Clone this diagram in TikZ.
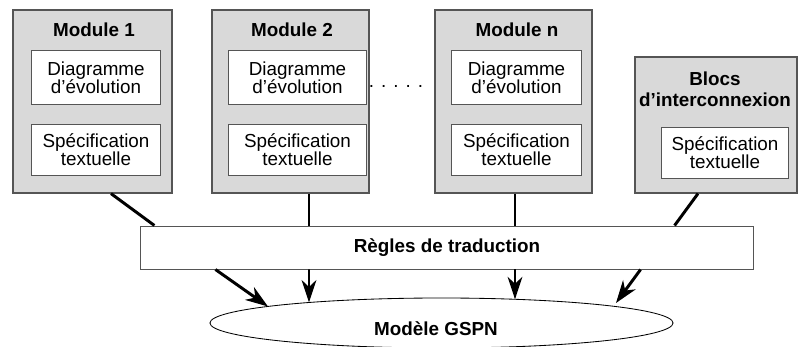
\documentclass[tikz,border=0pt]{standalone}
\usepackage{fontspec}
\setmainfont{Liberation Sans}
\usetikzlibrary{arrows.meta,calc,shapes.geometric}
\definecolor{modulegray}{RGB}{217,217,217}
\definecolor{bordergray}{RGB}{85,85,85}
\tikzset{%
  % Specifications for style of arrows:
   flow/.style={
           line width=1.4pt},
   bigflow/.style={
           line width=2.1pt},
   flowarrow/.style={
           flow,
           -{Stealth[length=16pt,width=10.5pt,inset=5pt]}},
   bigarrow/.style={
           bigflow,
           -{Stealth[length=16pt,width=11pt,inset=5pt]}},
  % Specifications for style of nodes:
   module/.style = {rectangle, draw=bordergray, fill=modulegray,
                  line width=0.8pt, inner sep=0pt},
   content/.style = {rectangle, draw=bordergray, fill=white,
                  line width=0.7pt, inner sep=0pt, align=center,
                  font=\fontsize{13.4}{12.8}\selectfont},
   title/.style = {align=center, inner sep=0pt,
                  font=\fontsize{13.4}{15}\selectfont\bfseries},
   rules/.style = {rectangle, draw=bordergray, fill=white,
                  line width=0.7pt, minimum width=15.3cm, minimum height=1.075cm,
                  font=\fontsize{13.4}{15}\selectfont\bfseries},
   model/.style = {ellipse, draw=black, line width=0.6pt, inner sep=0pt,
                  minimum width=11.575cm, minimum height=1.25cm},
}

\begin{document}
\begin{tikzpicture}[x=0.025cm, y=-0.025cm]
  \useasboundingbox (0,0) rectangle (798,347);

  % Modules
  \node (M1_block)	[module, minimum width=3.975cm, minimum height=4.575cm]	at (92.5,101.5) {};
  \node (M1_title)	[title]	at (94,30) {Module 1};
  \node (M1_diag)	[content, minimum width=3.2cm, minimum height=1.325cm]	at (96,77.5) {Diagramme\\d’évolution};
  \node (M1_spec)	[content, minimum width=3.2cm, minimum height=1.25cm]	at (96,150) {Spécification\\textuelle};

  \node (M2_block)	[module, minimum width=3.925cm, minimum height=4.575cm]	at (290.5,101.5) {};
  \node (M2_title)	[title]	at (292,30) {Module 2};
  \node (M2_diag)	[content, minimum width=3.425cm, minimum height=1.325cm]	at (297.5,77.5) {Diagramme\\d’évolution};
  \node (M2_spec)	[content, minimum width=3.425cm, minimum height=1.25cm]	at (297.5,150) {Spécification\\textuelle};

  \node (dots)	[font=\fontsize{13.4}{15}\selectfont]	at (396,86) {. . . . .};

  \node (Mn_block)	[module, minimum width=3.925cm, minimum height=4.575cm]	at (513.5,101.5) {};
  \node (Mn_title)	[title]	at (517,30) {Module n};
  \node (Mn_diag)	[content, minimum width=3.225cm, minimum height=1.325cm]	at (516.5,77.5) {Diagramme\\d’évolution};
  \node (Mn_spec)	[content, minimum width=3.225cm, minimum height=1.25cm]	at (516.5,150) {Spécification\\textuelle};

  % Interconnection blocks
  \node (B_block)	[module, minimum width=4.05cm, minimum height=3.4cm]	at (716,125) {};
  \node (B_title)	[title]	at (715,89.5) {Blocs\\d’interconnexion};
  \node (B_spec)	[content, minimum width=3.15cm, minimum height=1.25cm]	at (725,153) {Spécification\\textuelle};

  % Translation and result
  \node (rules_block)	[rules]	at (447,247.5) {Règles de traduction};
  \node (gspn_block)	[model]	at (441.5,323) {};
  \node (gspn_label)	[title]	at (436,329) {Modèle GSPN};

  % Connectors
  \draw[bigflow]	($(M1_block.south)+(18.5,0)$) -- ($(rules_block.north west)+(14,0)$);
  \draw[bigarrow]	($(rules_block.south west)+(75,0)$) -- ($(gspn_block.center)+(-173.5,-16.5)$);

  \draw[flow]	($(M2_block.south)+(18.5,0)$) coordinate (M2_out) -- (M2_out |- rules_block.north);
  \draw[flowarrow]	(M2_out |- rules_block.south) -- ($(gspn_block.center)+(-132.5,-20.5)$);

  \draw[flow]	($(Mn_block.south)+(1.5,0)$) coordinate (Mn_out) -- (Mn_out |- rules_block.north);
  \draw[flowarrow]	(Mn_out |- rules_block.south) -- ($(gspn_block.center)+(73.5,-23.7)$);

  \draw[bigflow]	($(B_block.south)+(-18,0)$) -- ($(rules_block.north east)+(-79,0)$);
  \draw[bigarrow]	($(rules_block.south east)+(-113,0)$) -- ($(gspn_block.center)+(174.5,-20)$);

\end{tikzpicture}
\end{document}
